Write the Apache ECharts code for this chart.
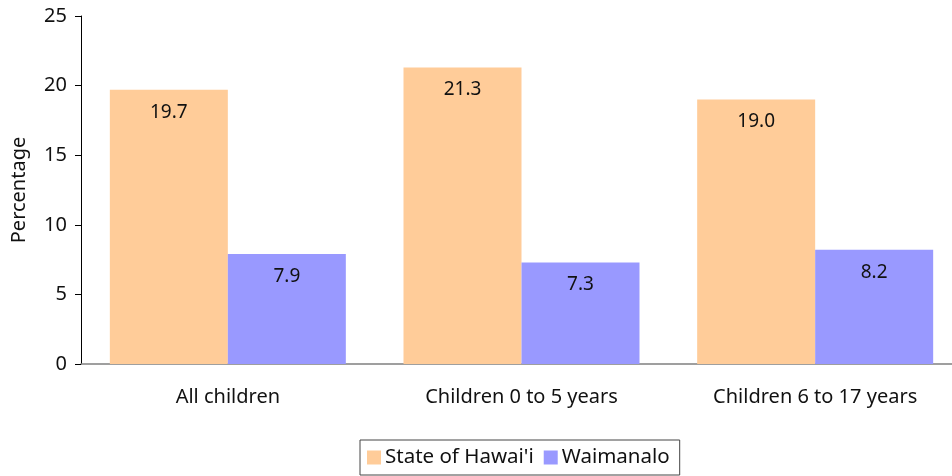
<!DOCTYPE html>
<html><head><meta charset="utf-8">
<script src="https://cdn.jsdelivr.net/npm/echarts@6/dist/echarts.min.js"></script>
<style>html,body{margin:0;padding:0;background:#fff}#c{width:952px;height:476px}</style>
</head><body><div id="c"></div>
<script>
var categories = ['All children', 'Children 0 to 5 years', 'Children 6 to 17 years'];
var hawaii = [19.7, 21.3, 19.0];
var waimanalo = [7.9, 7.3, 8.2];
var yTicks = [0, 5, 10, 15, 20, 25];
var seriesNames = ["State of Hawai'i", 'Waimanalo'];

var FONT = 'Noto Sans';
var chart = echarts.init(document.getElementById('c'));
var lbl = {
  show: true, position: 'insideTop', distance: 13,
  color: '#111', fontFamily: FONT, fontSize: 19,
  formatter: function (p) { return p.value.toFixed(1); }
};
chart.setOption({
  animation: false,
  grid: { left: 81, width: 881, top: 16, bottom: 112, outerBoundsMode: 'none', containLabel: false },
  legend: {
    bottom: 1, left: 360,
    data: seriesNames,
    icon: 'rect', itemWidth: 14, itemHeight: 14, itemGap: 10,
    borderColor: '#444', borderWidth: 1, padding: [7, 10, 7, 7],
    textStyle: { fontFamily: FONT, fontSize: 20.5, color: '#111', padding: [0, 0, 0, -1] }
  },
  xAxis: {
    type: 'category', data: categories,
    axisLine: { lineStyle: { color: '#808080', width: 1.5 } },
    axisTick: { show: false },
    axisLabel: { fontFamily: FONT, fontSize: 20, color: '#111', margin: 23 }
  },
  yAxis: {
    type: 'value', min: yTicks[0], max: yTicks[yTicks.length - 1], interval: 5,
    name: 'Percentage', nameLocation: 'middle', nameGap: 52,
    nameTextStyle: { fontFamily: FONT, fontSize: 20, color: '#111' },
    axisLine: { show: true, lineStyle: { color: '#000', width: 1 } },
    axisTick: { show: true, length: 6, lineStyle: { color: '#000' } },
    splitLine: { show: false },
    axisLabel: { fontFamily: FONT, fontSize: 20, color: '#111', margin: 14 }
  },
  series: [
    { name: seriesNames[0], type: 'bar', data: hawaii, barWidth: 118, barGap: '0%',
      itemStyle: { color: '#FFCC99' }, label: lbl },
    { name: seriesNames[1], type: 'bar', data: waimanalo, barWidth: 118, barGap: '0%',
      itemStyle: { color: '#9999FF' }, label: lbl }
  ]
});
</script></body></html>
